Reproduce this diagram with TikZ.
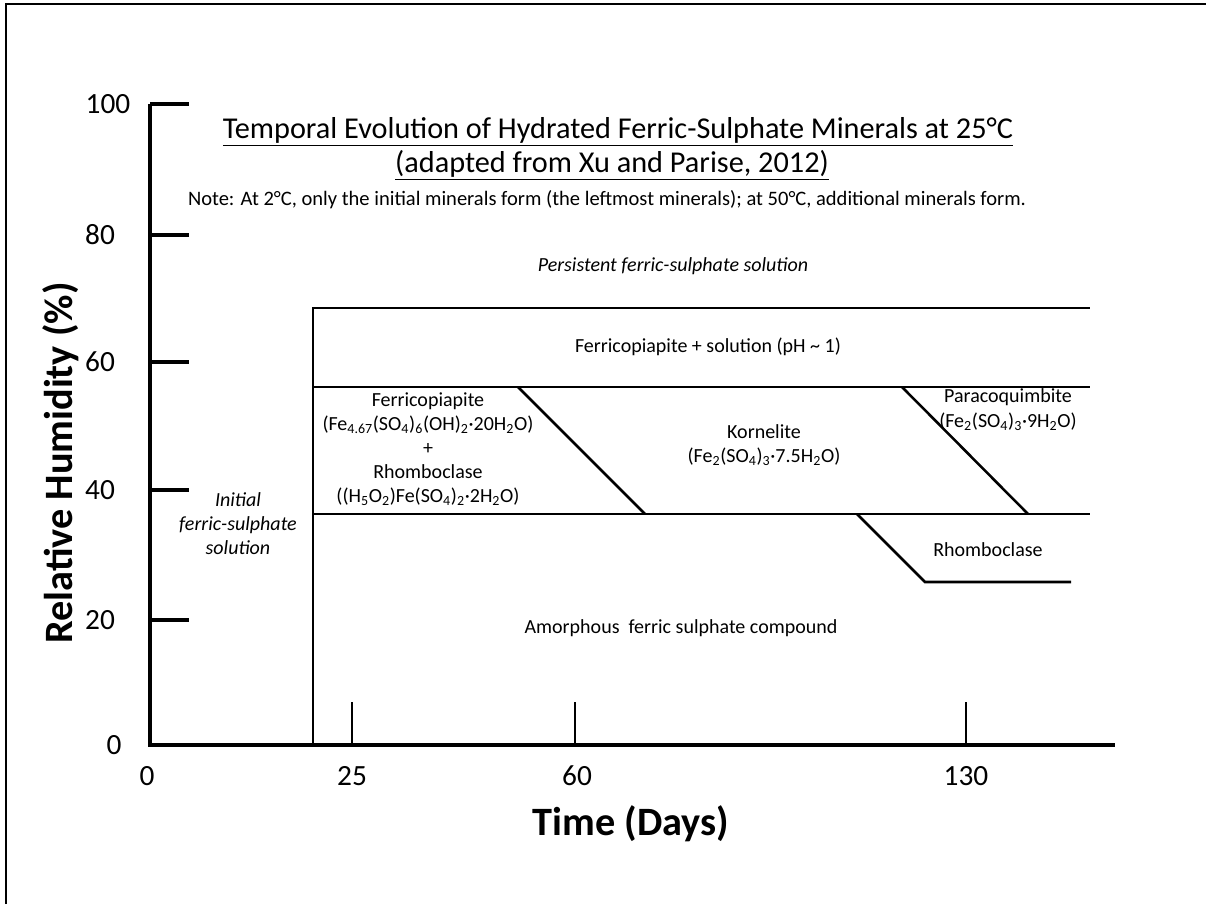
\documentclass[tikz,border=0pt]{standalone}
\usepackage{fontspec}
\setmainfont{Carlito}
\begin{document}
\begin{tikzpicture}[x=0.75pt,y=-0.75pt,
  axisline/.style={line width=3pt},
  xtick/.style={line width=2.2pt},
  bound/.style={line width=1.9pt},
  ticklbl/.style={inner sep=0pt, font=\fontsize{22}{26}\selectfont},
  axtitle/.style={inner sep=0pt, font=\fontsize{30.2}{34}\selectfont\bfseries},
  region/.style={inner sep=0pt, align=center, font=\fontsize{15}{18}\selectfont},
  iregion/.style={region, font=\fontsize{15}{18}\selectfont\itshape}]
\useasboundingbox (0,0) rectangle (1206,904);
% frame
\draw[line width=1pt] (6,904) -- (6,4) -- (1206,4);
% axes
\coordinate (O) at (150,745);
\coordinate (Ytop) at (150,104);
\coordinate (Xend) at (1115,745);
\draw[axisline] (Ytop) -- (O) -- (Xend);
\foreach \yy in {104,235,362,490,620}{
  \draw[axisline] (150,\yy) -- (189,\yy);
}
\node[ticklbl] (y100) at (108,104) {100};
\node[ticklbl] (y80)  at (100,235) {80};
\node[ticklbl] (y60)  at (100,362) {60};
\node[ticklbl] (y40)  at (100,490) {40};
\node[ticklbl] (y20)  at (100,620) {20};
\node[ticklbl] (y0)   at (114,745) {0};
\foreach \xx in {352,575,966}{
  \draw[xtick] (\xx,745) -- (\xx,702);
}
\node[ticklbl] (x0)   at (147,776) {0};
\node[ticklbl] (x25)  at (352,776) {25};
\node[ticklbl] (x60)  at (577,776) {60};
\node[ticklbl] (x130) at (966,776) {130};
\node[axtitle] (xt) at (631,824) {Time (Days)};
\node[axtitle, rotate=90] (yt) at (61,463) {Relative Humidity (\%)};
% title
\node[inner sep=0pt, align=center, font=\fontsize{22.7}{25}\selectfont] (t1) at (618,132)
  {\underline{Temporal Evolution of Hydrated Ferric-Sulphate Minerals at 25°C}};
\node[inner sep=0pt, align=center, font=\fontsize{22.7}{25}\selectfont] (t2) at (612,165)
  {\underline{(adapted from Xu and Parise, 2012)}};
\node[inner sep=0pt, font=\fontsize{15.4}{18}\selectfont] (note) at (607,200)
  {Note: At 2°C, only the initial minerals form (the leftmost minerals); at 50°C, additional minerals form.};
% boundaries
\coordinate (a1) at (313,745);
\coordinate (a2) at (313,308);
\coordinate (a3) at (1090,308);
\coordinate (b1) at (313,387);
\coordinate (b2) at (1090,387);
\coordinate (c1) at (313,514);
\coordinate (c2) at (1090,514);
\draw[bound] (a1) -- (a2) -- (a3);
\draw[bound] (b1) -- (b2);
\draw[bound] (c1) -- (c2);
\draw[bound] (518,387) -- (645,514);
\draw[bound] (902,387) -- (1028,514);
\draw[bound] (857,514) -- (925,582) -- (1071,582);
% region labels
\node[iregion] (persist) at (673,266) {Persistent ferric-sulphate solution};
\node[region] (fcsol) at (708,347) {Ferricopiapite + solution (pH \textasciitilde\ 1)};
\node[region] (fcrh) at (428,449)
  {Ferricopiapite\\(Fe\textsubscript{4.67}(SO\textsubscript{4})\textsubscript{6}(OH)\textsubscript{2}·20H\textsubscript{2}O)\\+\\Rhomboclase\\((H\textsubscript{5}O\textsubscript{2})Fe(SO\textsubscript{4})\textsubscript{2}·2H\textsubscript{2}O)};
\node[region] (korn) at (764,445)
  {Kornelite\\(Fe\textsubscript{2}(SO\textsubscript{4})\textsubscript{3}·7.5H\textsubscript{2}O)};
\node[region, font=\fontsize{15}{18.75}\selectfont] (para) at (1008,410)
  {Paracoquimbite\\(Fe\textsubscript{2}(SO\textsubscript{4})\textsubscript{3}·9H\textsubscript{2}O)};
\node[region] (rhombo) at (988,550) {Rhomboclase};
\node[iregion] (init) at (238,524)
  {Initial\\ferric-sulphate\\solution};
\node[region] (amor) at (681,628) {Amorphous\ \ ferric sulphate compound};
\end{tikzpicture}
\end{document}
